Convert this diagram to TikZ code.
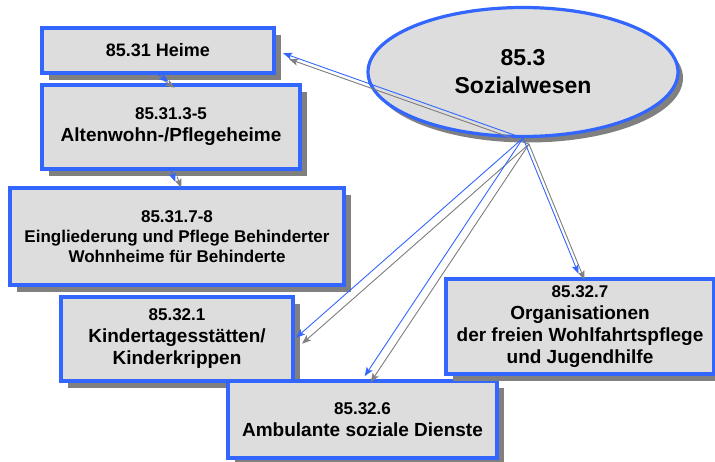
\documentclass[tikz,border=0pt]{standalone}
\usepackage{fontspec}
\setmainfont{Liberation Sans}
\usepackage{xcolor}
\usepackage{tikz}
\usetikzlibrary{arrows.meta,shadows,shapes.geometric}

\definecolor{framblue}{HTML}{3366FF}
\definecolor{boxgray}{HTML}{DDDDDD}
\definecolor{shadegray}{HTML}{808080}
\newcommand{\code}[1]{{\fontsize{17}{20}\selectfont #1}}

\begin{document}
\begin{tikzpicture}[x=1pt,y=-1pt,
    font=\bfseries\fontsize{19}{22}\selectfont,
    unitbox/.style={rectangle,fill=boxgray,
        align=center,inner sep=0pt,
        drop shadow={shadow xshift=7pt,shadow yshift=-7pt,fill=shadegray,opacity=1},
        draw=framblue,line width=3.2pt},
    hubbox/.style={ellipse,fill=boxgray,
        align=center,inner sep=0pt,
        drop shadow={shadow xshift=5pt,shadow yshift=-6pt,fill=shadegray,opacity=1},
        draw=framblue,line width=3.2pt},
    link/.style={draw=framblue,line width=0.9pt,-{Stealth[length=9pt,width=7pt,inset=2pt]}},
    linkshade/.style={link,draw=shadegray,fill=shadegray,
        transform canvas={xshift=6pt,yshift=-6pt}}]
    \useasboundingbox (0,0) rectangle (715,461);

    \node[unitbox,minimum width=232,minimum height=45] (heime) at (158,50.5)
        {\fontsize{18}{21}\selectfont 85.31 Heime};
    \node[unitbox,minimum width=258,minimum height=84] (alten) at (171,127)
        {\code{85.31.3-5}\\Altenwohn-/Pflegeheime};
    \node[unitbox,minimum width=334,minimum height=97,
        font=\bfseries\fontsize{17}{20}\selectfont] (eing) at (177,236.5)
        {85.31.7-8\\Eingliederung und Pflege Behinderter\\Wohnheime f\"ur Behinderte};
    \node[unitbox,minimum width=232,minimum height=84] (kinder) at (177,339)
        {\code{85.32.1}\\Kindertagesst\"atten/\\Kinderkrippen};
    \node[unitbox,minimum width=269,minimum height=77] (ambul) at (362.5,419.5)
        {\code{85.32.6}\\Ambulante soziale Dienste};
    \node[unitbox,minimum width=268,minimum height=95] (org) at (580,326.5)
        {\code{85.32.7}\\Organisationen\\der freien Wohlfahrtspflege\\und Jugendhilfe};
    \node[hubbox,minimum width=310,minimum height=129,
        font=\bfseries\fontsize{23}{28}\selectfont] (sozial) at (523,72)
        {85.3\\Sozialwesen};

    % connectors, each with its grey shadow
    \foreach \from/\to/\gap in {sozial.south/heime.east/8pt,
        heime.south/alten.north/3pt, alten.south/eing.north/5pt,
        sozial.south/kinder.east/2pt, sozial.south/ambul.north/4pt,
        sozial.south/org.north/4pt} {
        \draw[linkshade,shorten >=\gap] (\from) -- (\to);
        \draw[link,shorten >=\gap] (\from) -- (\to);
    }
\end{tikzpicture}
\end{document}
